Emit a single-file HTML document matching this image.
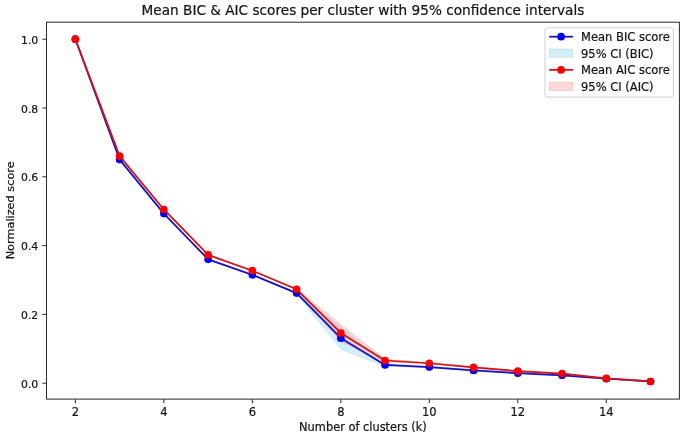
<!DOCTYPE html>
<html><head><meta charset="utf-8"><title>Mean BIC &amp; AIC scores</title>
<style>html,body{margin:0;padding:0;background:#fff}body{width:685px;height:438px;overflow:hidden}</style>
</head><body>
<svg width="685" height="438" viewBox="0 0 685 438" style="display:block;font-family:'DejaVu Sans','Liberation Sans',sans-serif" stroke-linecap="butt"><style>text{stroke:#151515;stroke-width:0.22px;paint-order:stroke fill}</style>
<rect width="685" height="438" fill="#fff"/>
<polygon points="75.40,39.20 119.64,159.26 163.88,213.26 208.12,259.02 252.36,274.50 296.60,292.38 340.84,327.13 385.08,363.59 429.32,366.34 473.56,369.78 517.80,372.54 562.04,374.60 606.28,378.38 650.52,381.14 650.52,381.82 606.28,379.07 562.04,375.98 517.80,373.91 473.56,371.16 429.32,367.72 385.08,366.34 340.84,349.14 296.60,293.76 252.36,275.18 208.12,259.70 163.88,213.95 119.64,159.94 75.40,39.20" fill="#87ceeb" fill-opacity="0.36" stroke="#87ceeb" stroke-opacity="0.36" stroke-width="0.9" stroke-linejoin="round"/>
<polygon points="75.40,39.20 119.64,155.82 163.88,209.14 208.12,254.54 252.36,270.37 296.60,288.60 340.84,324.38 385.08,359.12 429.32,362.56 473.56,366.69 517.80,370.47 562.04,372.88 606.28,378.04 650.52,381.14 650.52,381.82 606.28,378.73 562.04,374.26 517.80,371.85 473.56,368.06 429.32,363.94 385.08,361.87 340.84,341.58 296.60,289.98 252.36,271.06 208.12,255.23 163.88,209.82 119.64,156.50 75.40,39.20" fill="#f08080" fill-opacity="0.3" stroke="#f08080" stroke-opacity="0.3" stroke-width="0.9" stroke-linejoin="round"/>
<polyline points="75.40,39.20 119.64,159.60 163.88,213.61 208.12,259.36 252.36,274.84 296.60,293.07 340.84,338.14 385.08,364.97 429.32,367.03 473.56,370.47 517.80,373.22 562.04,375.29 606.28,378.73 650.52,381.48" fill="none" stroke="#1a10be" stroke-width="1.75" stroke-linejoin="round"/>
<circle cx="75.40" cy="39.20" r="3.85" fill="#0000f0"/>
<circle cx="119.64" cy="159.60" r="3.85" fill="#0000f0"/>
<circle cx="163.88" cy="213.61" r="3.85" fill="#0000f0"/>
<circle cx="208.12" cy="259.36" r="3.85" fill="#0000f0"/>
<circle cx="252.36" cy="274.84" r="3.85" fill="#0000f0"/>
<circle cx="296.60" cy="293.07" r="3.85" fill="#0000f0"/>
<circle cx="340.84" cy="338.14" r="3.85" fill="#0000f0"/>
<circle cx="385.08" cy="364.97" r="3.85" fill="#0000f0"/>
<circle cx="429.32" cy="367.03" r="3.85" fill="#0000f0"/>
<circle cx="473.56" cy="370.47" r="3.85" fill="#0000f0"/>
<circle cx="517.80" cy="373.22" r="3.85" fill="#0000f0"/>
<circle cx="562.04" cy="375.29" r="3.85" fill="#0000f0"/>
<circle cx="606.28" cy="378.73" r="3.85" fill="#0000f0"/>
<circle cx="650.52" cy="381.48" r="3.85" fill="#0000f0"/>
<polyline points="75.40,39.20 119.64,156.16 163.88,209.48 208.12,254.89 252.36,270.71 296.60,289.29 340.84,332.98 385.08,360.50 429.32,363.25 473.56,367.38 517.80,371.16 562.04,373.57 606.28,378.38 650.52,381.48" fill="none" stroke="#d41219" stroke-width="1.75" stroke-linejoin="round"/>
<circle cx="75.40" cy="39.20" r="3.85" fill="#fa0000"/>
<circle cx="119.64" cy="156.16" r="3.85" fill="#fa0000"/>
<circle cx="163.88" cy="209.48" r="3.85" fill="#fa0000"/>
<circle cx="208.12" cy="254.89" r="3.85" fill="#fa0000"/>
<circle cx="252.36" cy="270.71" r="3.85" fill="#fa0000"/>
<circle cx="296.60" cy="289.29" r="3.85" fill="#fa0000"/>
<circle cx="340.84" cy="332.98" r="3.85" fill="#fa0000"/>
<circle cx="385.08" cy="360.50" r="3.85" fill="#fa0000"/>
<circle cx="429.32" cy="363.25" r="3.85" fill="#fa0000"/>
<circle cx="473.56" cy="367.38" r="3.85" fill="#fa0000"/>
<circle cx="517.80" cy="371.16" r="3.85" fill="#fa0000"/>
<circle cx="562.04" cy="373.57" r="3.85" fill="#fa0000"/>
<circle cx="606.28" cy="378.38" r="3.85" fill="#fa0000"/>
<circle cx="650.52" cy="381.48" r="3.85" fill="#fa0000"/>
<rect x="46.5" y="22.2" width="632.90" height="376.90" fill="none" stroke="#2a2a2a" stroke-width="1.0"/>
<line x1="75.40" x2="75.40" y1="399.1" y2="403.20000000000005" stroke="#2a2a2a" stroke-width="1.0"/>
<text x="75.40" y="416.10" font-size="11.5" text-anchor="middle" fill="#151515">2</text>
<line x1="163.88" x2="163.88" y1="399.1" y2="403.20000000000005" stroke="#2a2a2a" stroke-width="1.0"/>
<text x="163.88" y="416.10" font-size="11.5" text-anchor="middle" fill="#151515">4</text>
<line x1="252.36" x2="252.36" y1="399.1" y2="403.20000000000005" stroke="#2a2a2a" stroke-width="1.0"/>
<text x="252.36" y="416.10" font-size="11.5" text-anchor="middle" fill="#151515">6</text>
<line x1="340.84" x2="340.84" y1="399.1" y2="403.20000000000005" stroke="#2a2a2a" stroke-width="1.0"/>
<text x="340.84" y="416.10" font-size="11.5" text-anchor="middle" fill="#151515">8</text>
<line x1="429.32" x2="429.32" y1="399.1" y2="403.20000000000005" stroke="#2a2a2a" stroke-width="1.0"/>
<text x="429.32" y="416.10" font-size="11.5" text-anchor="middle" fill="#151515">10</text>
<line x1="517.80" x2="517.80" y1="399.1" y2="403.20000000000005" stroke="#2a2a2a" stroke-width="1.0"/>
<text x="517.80" y="416.10" font-size="11.5" text-anchor="middle" fill="#151515">12</text>
<line x1="606.28" x2="606.28" y1="399.1" y2="403.20000000000005" stroke="#2a2a2a" stroke-width="1.0"/>
<text x="606.28" y="416.10" font-size="11.5" text-anchor="middle" fill="#151515">14</text>
<line x1="42.4" x2="46.5" y1="383.20" y2="383.20" stroke="#2a2a2a" stroke-width="1.0"/>
<text x="38.20" textLength="17.2" lengthAdjust="spacingAndGlyphs" y="387.70" font-size="11.2" text-anchor="end" fill="#151515">0.0</text>
<line x1="42.4" x2="46.5" y1="314.40" y2="314.40" stroke="#2a2a2a" stroke-width="1.0"/>
<text x="38.20" textLength="17.2" lengthAdjust="spacingAndGlyphs" y="318.90" font-size="11.2" text-anchor="end" fill="#151515">0.2</text>
<line x1="42.4" x2="46.5" y1="245.60" y2="245.60" stroke="#2a2a2a" stroke-width="1.0"/>
<text x="38.20" textLength="17.2" lengthAdjust="spacingAndGlyphs" y="250.10" font-size="11.2" text-anchor="end" fill="#151515">0.4</text>
<line x1="42.4" x2="46.5" y1="176.80" y2="176.80" stroke="#2a2a2a" stroke-width="1.0"/>
<text x="38.20" textLength="17.2" lengthAdjust="spacingAndGlyphs" y="181.30" font-size="11.2" text-anchor="end" fill="#151515">0.6</text>
<line x1="42.4" x2="46.5" y1="108.00" y2="108.00" stroke="#2a2a2a" stroke-width="1.0"/>
<text x="38.20" textLength="17.2" lengthAdjust="spacingAndGlyphs" y="112.50" font-size="11.2" text-anchor="end" fill="#151515">0.8</text>
<line x1="42.4" x2="46.5" y1="39.20" y2="39.20" stroke="#2a2a2a" stroke-width="1.0"/>
<text x="38.20" textLength="17.2" lengthAdjust="spacingAndGlyphs" y="43.70" font-size="11.2" text-anchor="end" fill="#151515">1.0</text>
<text x="362.95" y="15.1" font-size="13.65" text-anchor="middle" fill="#151515">Mean BIC &amp; AIC scores per cluster with 95% confidence intervals</text>
<text x="362.95" y="430.7" font-size="11.4" text-anchor="middle" fill="#151515">Number of clusters (k)</text>
<text transform="translate(13.5,210.35) rotate(-90)" font-size="11.3" text-anchor="middle" fill="#151515">Normalized score</text>
<rect x="545.0" y="27.8" width="128.40" height="69.30" rx="2.3" ry="2.3" fill="#fff" fill-opacity="0.8" stroke="#cccccc" stroke-width="0.95"/>
<line x1="549.2" x2="573.0" y1="36.7" y2="36.7" stroke="#1a10be" stroke-width="1.75"/>
<circle cx="561.10" cy="36.7" r="3.85" fill="#0000f0"/>
<text x="581.0" y="40.70" font-size="11.5" fill="#151515">Mean BIC score</text>
<rect x="549.2" y="49.10" width="23.80" height="8.2" fill="#87ceeb" fill-opacity="0.36" stroke="#87ceeb" stroke-opacity="0.36" stroke-width="1"/>
<text x="581.0" y="57.90" font-size="11.5" fill="#151515">95% CI (BIC)</text>
<line x1="549.2" x2="573.0" y1="69.9" y2="69.9" stroke="#d41219" stroke-width="1.75"/>
<circle cx="561.10" cy="69.9" r="3.85" fill="#fa0000"/>
<text x="581.0" y="73.90" font-size="11.5" fill="#151515">Mean AIC score</text>
<rect x="549.2" y="82.30" width="23.80" height="8.2" fill="#f08080" fill-opacity="0.3" stroke="#f08080" stroke-opacity="0.3" stroke-width="1"/>
<text x="581.0" y="91.10" font-size="11.5" fill="#151515">95% CI (AIC)</text>
</svg>
</body></html>
